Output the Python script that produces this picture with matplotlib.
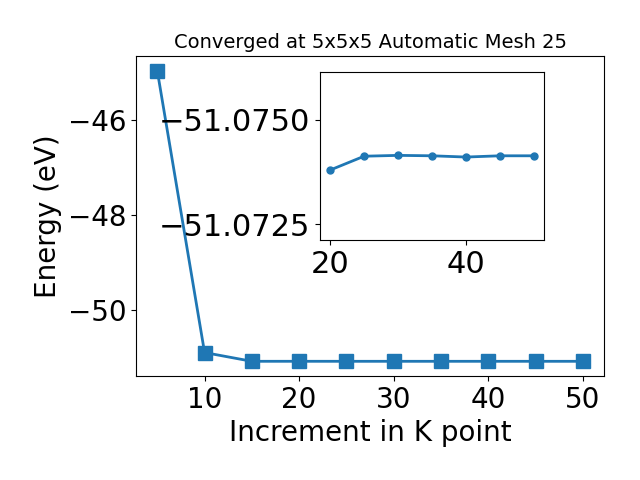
import numpy as np
import matplotlib
matplotlib.use("Agg")
import matplotlib.pyplot as plt

# k-point increments and total energies
kpoints = [5, 10, 15, 20, 25, 30, 35, 40, 45, 50]
energy = [-44.97, -50.89, -51.0741, -51.0738, -51.07414, -51.07415, -51.07414,
          -51.07411, -51.07414, -51.07414]

# zoomed region (inset)
kpoints_zoom = [20, 25, 30, 35, 40, 45, 50]
energy_zoom = [-51.07380, -51.07413, -51.07415, -51.07414, -51.07411, -51.07414, -51.07414]

fig = plt.figure(figsize=(6.4, 4.8), dpi=100)
ax = fig.add_axes([0.2125, 0.217, 0.7315, 0.666])
ax.plot(kpoints, energy, marker='s', markersize=10, linewidth=2, color='#1f77b4')
ax.set_xlabel("Increment in K point", fontsize=20)
ax.set_ylabel("Energy (eV)", fontsize=20)
ax.set_title("Converged at 5x5x5 Automatic Mesh 25", fontsize=14)
ax.tick_params(labelsize=20)
ax.set_yticks([-46, -48, -50])

# inset
axin = fig.add_axes([0.5, 0.5, 0.35, 0.35])
axin.plot(kpoints_zoom, energy_zoom, marker='o', markersize=5, linewidth=2, color='#1f77b4')
axin.set_ylim(-51.07213, -51.07614)
axin.set_yticks([-51.0750, -51.0725])
axin.set_yticklabels(["\u221251.0750", "\u221251.0725"])
axin.set_xticks([20, 40])
axin.tick_params(labelsize=22)

fig.savefig("out.png", dpi=100)
